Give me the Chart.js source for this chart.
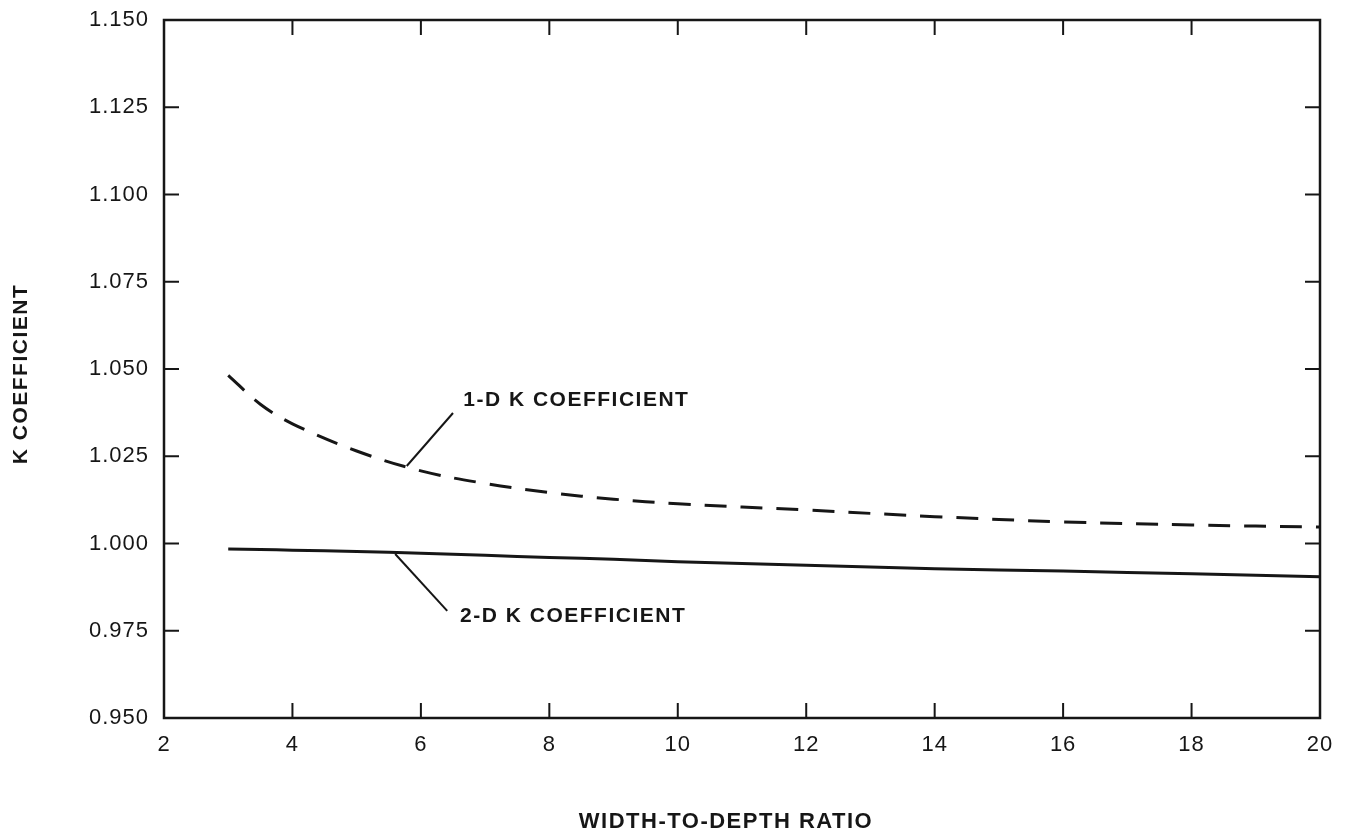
<!DOCTYPE html>
<html>
<head>
<meta charset="utf-8">
<title>K coefficient vs width-to-depth ratio</title>
<script src="https://cdn.jsdelivr.net/npm/chart.js@4.4.1/dist/chart.umd.min.js"></script>
<style>
  html, body { margin: 0; padding: 0; background: #fff; }
  #wrap { width: 1347px; height: 835px; position: relative; }
</style>
</head>
<body>
<div id="wrap"><canvas id="chart"></canvas></div>
<script>
// Chart data
const ratios = [3, 3.5, 4, 5, 6, 7, 8, 9, 10, 12, 14, 16, 18, 20];
const oneD = [1.0482, 1.0399, 1.0343, 1.0265, 1.0208, 1.0172, 1.0146, 1.0127, 1.0114, 1.0096, 1.0077, 1.0062, 1.0053, 1.0047];
const twoD = [0.9984, 0.9983, 0.9981, 0.9977, 0.9972, 0.9966, 0.9960, 0.9955, 0.9948, 0.9938, 0.9928, 0.9921, 0.9913, 0.9905];
const xTicks = [2, 4, 6, 8, 10, 12, 14, 16, 18, 20];
const yTicks = [0.950, 0.975, 1.000, 1.025, 1.050, 1.075, 1.100, 1.125, 1.150];

// Callout labels, anchored in data units
const callouts = [
  { text: '1-D K COEFFICIENT', from: [5.78, 1.0222], to: [6.50, 1.0374], at: [6.66, 1.0411] },
  { text: '2-D K COEFFICIENT', from: [5.60, 0.9970], to: [6.41, 0.9807], at: [6.61, 0.9792] }
];

const INK = '#161616';
const FONT = '"Liberation Sans", Arial, Helvetica, sans-serif';
const TICK_LEN = 15;

// Frame, inward ticks, axis titles and callouts
const framePlugin = {
  id: 'frame',
  beforeDraw(chart) {
    chart.ctx.letterSpacing = '1px';
  },
  afterDraw(chart) {
    const { ctx, chartArea: a, scales: { x, y } } = chart;
    ctx.save();
    ctx.strokeStyle = INK;
    ctx.lineWidth = 2.5;
    ctx.strokeRect(a.left, a.top, a.right - a.left, a.bottom - a.top);

    ctx.lineWidth = 2;
    ctx.beginPath();
    xTicks.slice(1, -1).forEach(v => {
      const px = x.getPixelForValue(v);
      ctx.moveTo(px, a.bottom); ctx.lineTo(px, a.bottom - TICK_LEN);
      ctx.moveTo(px, a.top); ctx.lineTo(px, a.top + TICK_LEN);
    });
    yTicks.slice(1, -1).forEach(v => {
      const py = y.getPixelForValue(v);
      ctx.moveTo(a.left, py); ctx.lineTo(a.left + TICK_LEN, py);
      ctx.moveTo(a.right, py); ctx.lineTo(a.right - TICK_LEN, py);
    });
    ctx.stroke();

    // callouts
    ctx.lineWidth = 2;
    ctx.fillStyle = INK;
    ctx.font = 'bold 21px ' + FONT;
    ctx.letterSpacing = '1.5px';
    ctx.textBaseline = 'middle';
    ctx.textAlign = 'left';
    callouts.forEach(c => {
      ctx.beginPath();
      ctx.moveTo(x.getPixelForValue(c.from[0]), y.getPixelForValue(c.from[1]));
      ctx.lineTo(x.getPixelForValue(c.to[0]), y.getPixelForValue(c.to[1]));
      ctx.stroke();
      ctx.fillText(c.text, x.getPixelForValue(c.at[0]), y.getPixelForValue(c.at[1]));
    });

    // axis titles
    ctx.textAlign = 'center';
    ctx.font = 'bold 22px ' + FONT;
    ctx.fillText('WIDTH-TO-DEPTH RATIO', (a.left + a.right) / 2 - 16, 822);
    ctx.save();
    ctx.translate(21, (a.top + a.bottom) / 2 + 5);
    ctx.rotate(-Math.PI / 2);
    ctx.font = 'bold 21px ' + FONT;
    ctx.fillText('K COEFFICIENT', 0, 0);
    ctx.restore();

    ctx.restore();
  }
};

const ctx = document.getElementById('chart').getContext('2d');
new Chart(ctx, {
  type: 'line',
  data: {
    datasets: [
      {
        label: '1-D K COEFFICIENT',
        data: ratios.map((r, i) => ({ x: r, y: oneD[i] })),
        borderColor: INK,
        borderWidth: 3,
        borderDash: [22, 14],
        pointRadius: 0,
        tension: 0.35,
        fill: false
      },
      {
        label: '2-D K COEFFICIENT',
        data: ratios.map((r, i) => ({ x: r, y: twoD[i] })),
        borderColor: INK,
        borderWidth: 3,
        pointRadius: 0,
        tension: 0.35,
        fill: false
      }
    ]
  },
  options: {
    responsive: true,
    maintainAspectRatio: false,
    animation: false,
    layout: { padding: { top: 20, right: 27, left: 0, bottom: 0 } },
    plugins: {
      legend: { display: false },
      tooltip: { enabled: false }
    },
    scales: {
      x: {
        type: 'linear',
        min: 2,
        max: 20,
        afterBuildTicks: s => { s.ticks = xTicks.map(v => ({ value: v })); },
        afterFit: s => { s.height = 117; s.paddingLeft = 0; s.paddingRight = 0; },
        grid: { display: false, drawTicks: false },
        border: { display: false },
        ticks: {
          padding: 14,
          color: INK,
          font: { family: FONT, size: 22 },
          maxRotation: 0,
          callback: v => String(v)
        }
      },
      y: {
        type: 'linear',
        min: 0.95,
        max: 1.15,
        afterBuildTicks: s => { s.ticks = yTicks.map(v => ({ value: v })); },
        afterFit: s => { s.width = 164; s.paddingTop = 0; s.paddingBottom = 0; },
        grid: { display: false, drawTicks: false },
        border: { display: false },
        ticks: {
          padding: 15,
          color: INK,
          font: { family: FONT, size: 22 },
          callback: v => Number(v).toFixed(3)
        }
      }
    }
  },
  plugins: [framePlugin]
});
</script>
</body>
</html>
